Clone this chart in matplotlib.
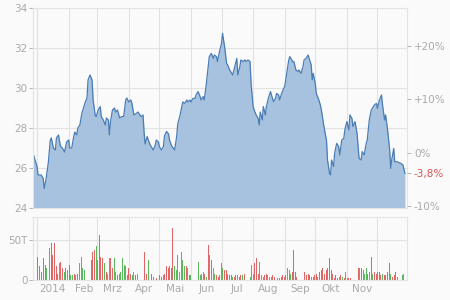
import matplotlib
matplotlib.use("Agg")
import matplotlib.pyplot as plt
import matplotlib.dates as mdates
import pandas as pd

# price: days since 1 Jan 2014 and closing price
price_day = [-4, -2, 0, 1, 4, 6, 7, 9, 11, 13, 14, 16, 18, 19, 21, 23, 24, 26, 27, 29,
             31, 32, 34, 36, 37, 39, 40, 42, 44, 45, 47, 49, 50, 52, 54, 55, 57, 58, 60, 62,
             63, 65, 67, 68, 70, 71, 72, 74, 76, 77, 79, 81, 83, 85, 87, 88, 90, 92, 93, 95,
             98, 99, 101, 102, 104, 105, 106, 108, 110, 111, 114, 116, 117, 119, 120, 122, 124, 125, 127, 129,
             130, 132, 134, 135, 137, 138, 140, 142, 143, 145, 147, 148, 150, 151, 153, 155, 156, 158, 160, 161,
             163, 164, 166, 168, 169, 171, 173, 174, 176, 177, 179, 181, 182, 184, 186, 187, 189, 191, 192, 194,
             196, 197, 199, 200, 202, 204, 205, 207, 209, 210, 212, 213, 215, 217, 218, 219, 221, 222, 224, 225,
             227, 229, 230, 232, 234, 235, 237, 238, 240, 242, 243, 245, 247, 248, 250, 251, 252, 254, 256, 257,
             259, 261, 262, 264, 266, 267, 269, 270, 271, 273, 274, 276, 278, 279, 281, 283, 284, 285, 287, 288,
             289, 291, 292, 294, 296, 297, 299, 301, 302, 304, 306, 307, 309, 310, 312, 314, 315, 316, 318, 319,
             321, 323, 324, 326, 328, 329, 331, 333, 334, 336, 338, 339, 341, 342, 344, 346, 347, 348, 350, 351,
             353, 355, 357, 359, 361]
price = [26.75, 26.4, 26.07, 25.65, 25.65, 25.48, 24.97, 25.5, 26.25, 27.4, 27.5, 27.0, 26.9, 27.5, 27.65, 27.07, 27.05, 26.9, 26.8, 27.3,
         27.4, 27.0, 27.0, 27.57, 27.8, 27.65, 28.0, 28.15, 28.75, 28.9, 29.25, 29.5, 30.4, 30.65, 30.4, 29.4, 28.65, 28.57, 28.9, 29.07,
         28.57, 28.4, 28.15, 28.5, 28.4, 27.65, 28.3, 28.9, 29.0, 28.8, 28.9, 28.5, 28.57, 28.57, 29.4, 29.5, 29.3, 29.4, 29.25, 28.65,
         28.75, 28.8, 28.65, 28.57, 28.65, 27.8, 27.2, 27.57, 27.3, 27.15, 26.9, 27.15, 27.4, 27.3, 27.07, 26.9, 27.07, 27.6, 27.83, 27.7,
         27.4, 27.1, 26.98, 26.9, 27.57, 28.2, 28.57, 29.07, 29.3, 29.23, 29.4, 29.3, 29.4, 29.3, 29.48, 29.48, 29.65, 29.82, 29.57, 29.4,
         29.57, 29.4, 30.15, 31.07, 31.57, 31.73, 31.48, 31.65, 31.57, 31.32, 31.82, 32.23, 32.73, 32.07, 31.23, 31.15, 30.9, 30.73, 30.65, 31.07,
         31.48, 30.65, 31.07, 31.4, 31.32, 31.4, 31.32, 31.4, 31.32, 30.23, 29.07, 28.9, 28.65, 28.48, 28.15, 28.8, 28.4, 29.07, 28.65, 29.07,
         29.48, 29.82, 29.65, 29.32, 29.48, 29.73, 29.65, 29.4, 29.73, 29.98, 30.07, 30.73, 31.4, 31.57, 31.4, 31.3, 31.32, 30.9, 30.82, 30.9,
         30.73, 31.07, 31.4, 31.48, 31.65, 31.48, 31.15, 30.4, 30.73, 30.23, 29.73, 29.48, 29.15, 28.9, 28.23, 27.65, 27.4, 26.4, 25.73, 25.65,
         26.4, 26.07, 26.73, 27.23, 27.07, 26.65, 27.4, 27.48, 27.9, 28.32, 27.9, 28.65, 28.48, 28.07, 28.32, 27.73, 27.07, 26.48, 26.4, 26.82,
         26.65, 27.23, 27.4, 28.4, 28.9, 28.98, 29.15, 29.23, 28.98, 29.4, 29.65, 29.15, 28.4, 28.65, 27.9, 26.9, 25.98, 26.4, 26.98, 26.32,
         26.32, 26.27, 26.23, 26.15, 25.73]

# volume in thousands, 'g' = up day, 'r' = down day
vol_day = [0, 2, 4, 6, 8, 9, 12, 14, 15, 17, 19, 20, 22, 23, 25, 27, 28, 30, 32, 33,
           35, 37, 38, 40, 42, 44, 45, 47, 50, 51, 53, 54, 56, 58, 59, 61, 62, 64, 66, 68,
           69, 71, 72, 74, 76, 77, 79, 81, 82, 84, 86, 87, 89, 90, 92, 94, 95, 97, 99, 100,
           102, 103, 105, 107, 109, 112, 114, 117, 120, 122, 124, 125, 127, 129, 130, 132, 133, 135, 137, 138,
           140, 142, 143, 145, 147, 148, 150, 151, 153, 155, 156, 158, 160, 161, 163, 164, 166, 168, 169, 171,
           173, 174, 176, 178, 179, 181, 182, 184, 186, 187, 189, 191, 192, 194, 195, 197, 199, 200, 202, 204,
           205, 207, 209, 210, 212, 213, 215, 217, 218, 220, 222, 223, 225, 226, 228, 230, 231, 233, 236, 238,
           240, 241, 243, 244, 246, 248, 249, 251, 252, 254, 255, 257, 258, 259, 261, 262, 264, 266, 267, 269,
           271, 272, 274, 275, 277, 279, 280, 282, 284, 285, 287, 289, 290, 292, 293, 295, 297, 298, 300, 302,
           303, 305, 306, 308, 310, 311, 313, 315, 316, 318, 320, 321, 323, 324, 326, 328, 329, 331, 333, 334,
           336, 337, 339, 341, 342, 344, 346, 347, 349, 351, 352, 354, 359, 360]
volume = [29, 17, 10, 27, 19, 15, 40, 46, 31, 47, 17, 8, 21, 23, 15, 10, 15, 12, 19, 6,
          6, 8, 6, 8, 21, 29, 15, 12, 33, 33, 25, 35, 37, 42, 25, 56, 29, 27, 21, 10,
          8, 27, 27, 15, 27, 10, 6, 8, 10, 27, 19, 17, 6, 15, 8, 6, 10, 6, 8, 21,
          15, 8, 35, 8, 25, 8, 4, 2, 6, 4, 6, 8, 17, 15, 17, 15, 65, 17, 12, 31,
          10, 35, 25, 17, 17, 15, 6, 6, 6, 17, 4, 23, 6, 8, 10, 8, 4, 44, 31, 25,
          15, 8, 6, 4, 6, 21, 15, 12, 12, 8, 6, 6, 4, 4, 6, 6, 4, 6, 6, 8,
          8, 6, 4, 19, 8, 21, 27, 8, 23, 6, 4, 6, 8, 6, 4, 4, 6, 4, 2, 2,
          4, 6, 4, 6, 15, 12, 8, 10, 37, 10, 4, 6, 6, 4, 37, 10, 6, 8, 6, 4,
          4, 6, 8, 4, 10, 12, 15, 8, 12, 15, 27, 12, 8, 2, 6, 2, 4, 6, 4, 2,
          10, 2, 2, 2, 6, 4, 8, 15, 15, 15, 12, 8, 15, 8, 10, 29, 8, 10, 8, 10,
          10, 6, 8, 6, 6, 10, 21, 8, 4, 6, 10, 4, 6, 8]
vol_dir = list("rrrrrggrrrrrgrrgrgrg"
               "grgggggggrrrrggrrrgr"
               "ggrrggrgggggrrrggrgr"
               "rrrrgrrrrrgrrrrrrggg"
               "ggggrgrggrrggggrgrgr"
               "ggrrrggrrrrrgrrgrrgr"
               "rggggrrrgggrrgggrrgr"
               "rrrrgggrrrrrrrrrrrrg"
               "rrrrrrrrrrrrrrrrgrgr"
               "grrrrrrrgrgggrgrgrrg"
               "rrgrrrrgrrrrgg")

y_ticks = [24, 26, 28, 30, 32, 34]
pct_ticks = [0.20, 0.10, 0.0, -0.10]
pct_labels = ["+20%", "+10%", "0%", "-10%"]
month_labels = ["2014", "Feb", "Mrz", "Apr", "Mai", "Jun", "Jul", "Aug", "Sep", "Okt", "Nov"]

start = pd.Timestamp("2014-01-01")
price_dates = [start + pd.Timedelta(days=d) for d in price_day]
vol_dates = [start + pd.Timedelta(days=d) for d in vol_day]
base = price[0]
last_pct = price[-1] / base - 1

grey = "#aaaaaa"
grid_c = "#e2e2e2"
line_c = "#4a7db4"
fill_c = "#a6c2de"
red_txt = "#d9534f"

fig = plt.figure(figsize=(4.5, 3), dpi=100, facecolor="#fafafa")
ax = fig.add_axes([0.0733, 0.3067, 0.8311, 0.6667], facecolor="#fafafa")
axv = fig.add_axes([0.0733, 0.0667, 0.8311, 0.21], facecolor="#fafafa", sharex=ax)

xmin = pd.Timestamp("2013-12-28")
xmax = pd.Timestamp("2014-12-30")

ax.fill_between(price_dates, price, 24, color=fill_c, lw=0)
ax.plot(price_dates, price, color=line_c, lw=0.9)
ax.set_ylim(24, 34)
ax.set_xlim(xmin, xmax)
ax.set_yticks(y_ticks)
ax.tick_params(axis="y", colors=grey, labelsize=7.5, length=3, width=0.6, pad=1)
ax.tick_params(axis="x", which="both", length=0, labelbottom=False)

# right axis in percent of first close
axr = ax.twinx()
axr.set_ylim(24, 34)
axr.set_yticks([base * (1 + p) for p in pct_ticks] + [base * (1 + last_pct)])
axr.set_yticklabels(pct_labels + [("%+.1f%%" % (last_pct * 100)).replace(".", ",")])
axr.tick_params(axis="y", colors=grey, labelsize=7.5, length=3, width=0.6, pad=2)
lbls = axr.get_yticklabels()
lbls[-1].set_color(red_txt)
axr.yaxis.get_major_ticks()[-1].tick2line.set_color(red_txt)

vcolors = ["#5cb85c" if c == "g" else "#e06666" for c in vol_dir]
axv.bar(vol_dates, volume, width=0.9, color=vcolors, lw=0)
axv.set_ylim(0, 79)
axv.set_yticks([0, 50])
axv.set_yticklabels(["0", "50T"])
axv.tick_params(axis="y", colors=grey, labelsize=7.5, length=3, width=0.6, pad=1)

for a in (ax, axv):
    a.xaxis.set_major_locator(mdates.MonthLocator())
    a.xaxis.set_minor_locator(mdates.MonthLocator(bymonthday=16))
    a.grid(True, which="major", color=grid_c, lw=0.8)
    a.set_axisbelow(True)
    for s in a.spines.values():
        s.set_color("#e4e4e4")
        s.set_linewidth(0.8)
for s in axr.spines.values():
    s.set_visible(False)

axv.xaxis.set_major_formatter(plt.NullFormatter())
axv.set_xticks([pd.Timestamp(2014, m, 16) for m in range(1, 12)], minor=True)
axv.set_xticklabels(month_labels, minor=True)
axv.tick_params(axis="x", which="both", length=0, colors=grey, labelsize=7.5, pad=3)

fig.savefig("out.png", dpi=100, facecolor=fig.get_facecolor())
